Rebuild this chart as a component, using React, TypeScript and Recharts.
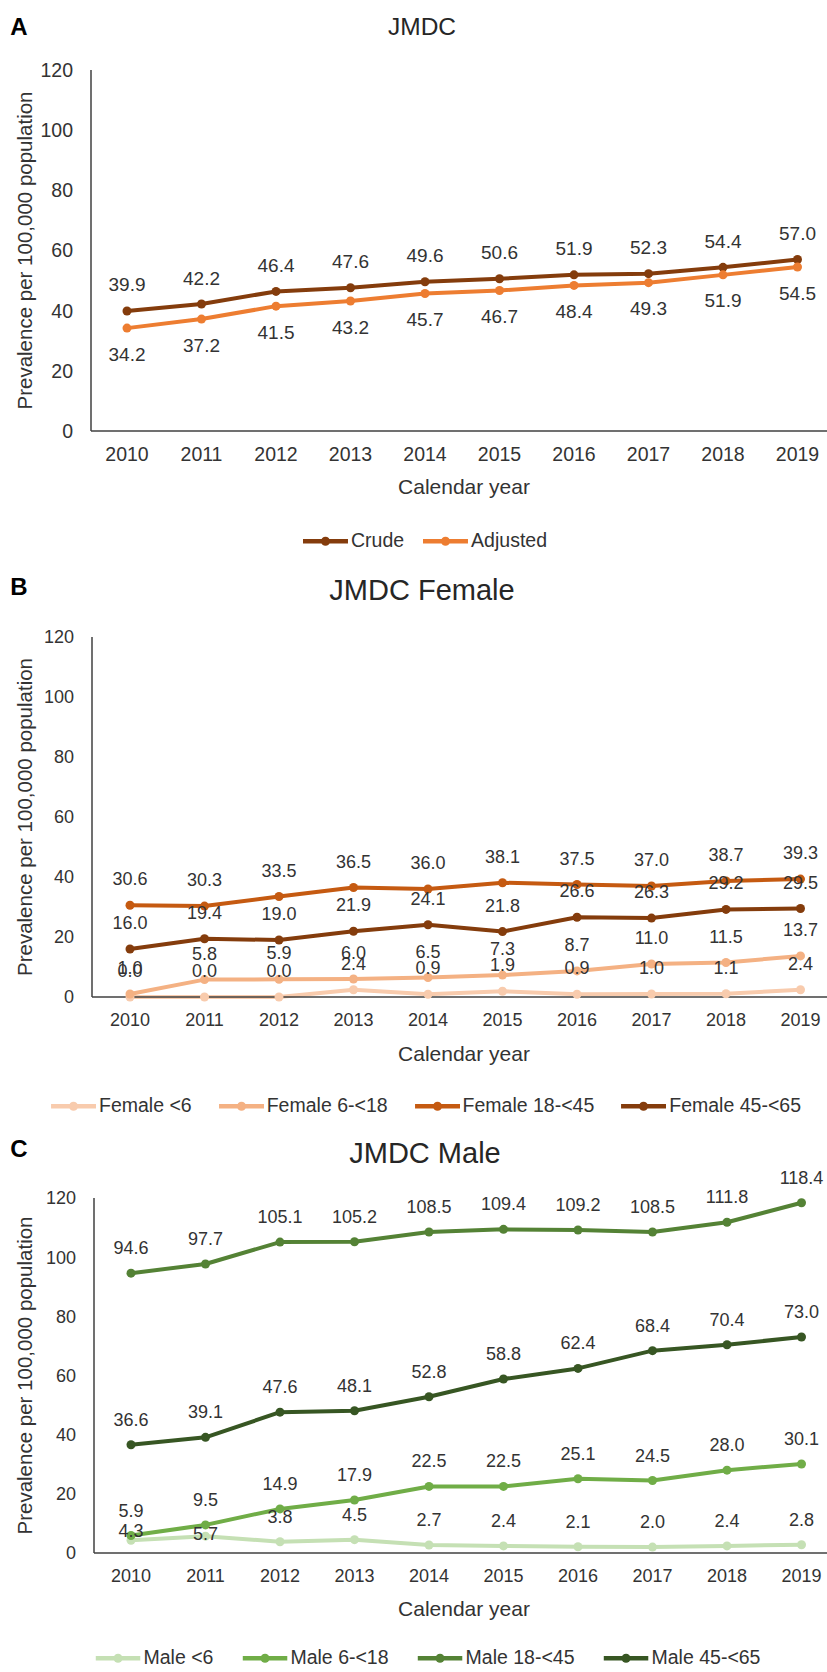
import React from "react";
import { LineChart, Line, XAxis, YAxis, LabelList } from "recharts";

const years = ["2010", "2011", "2012", "2013", "2014", "2015", "2016", "2017", "2018", "2019"];
const yTicks = [0, 20, 40, 60, 80, 100, 120];

// A: overall
const crude = [39.9, 42.2, 46.4, 47.6, 49.6, 50.6, 51.9, 52.3, 54.4, 57.0];
const adjusted = [34.2, 37.2, 41.5, 43.2, 45.7, 46.7, 48.4, 49.3, 51.9, 54.5];

// B: female by age group
const femaleUnder6 = [0.0, 0.0, 0.0, 2.4, 0.9, 1.9, 0.9, 1.0, 1.1, 2.4];
const female6to18 = [1.0, 5.8, 5.9, 6.0, 6.5, 7.3, 8.7, 11.0, 11.5, 13.7];
const female18to45 = [30.6, 30.3, 33.5, 36.5, 36.0, 38.1, 37.5, 37.0, 38.7, 39.3];
const female45to65 = [16.0, 19.4, 19.0, 21.9, 24.1, 21.8, 26.6, 26.3, 29.2, 29.5];

// C: male by age group
const maleUnder6 = [4.3, 5.7, 3.8, 4.5, 2.7, 2.4, 2.1, 2.0, 2.4, 2.8];
const male6to18 = [5.9, 9.5, 14.9, 17.9, 22.5, 22.5, 25.1, 24.5, 28.0, 30.1];
const male18to45 = [94.6, 97.7, 105.1, 105.2, 108.5, 109.4, 109.2, 108.5, 111.8, 118.4];
const male45to65 = [36.6, 39.1, 47.6, 48.1, 52.8, 58.8, 62.4, 68.4, 70.4, 73.0];

const FONT = "Arial, 'Liberation Sans', Helvetica, sans-serif";
const TEXT = "#333333";
const TITLE = "#262626";
const AXIS = "#404040";

type Series = {
  key: string;
  name: string;
  color: string;
  values: number[];
  dy: number;
  dyAt?: Record<number, number>;
};

const seriesA: Series[] = [
  { key: "crude", name: "Crude", color: "#843C0C", values: crude, dy: -26 },
  { key: "adjusted", name: "Adjusted", color: "#ED7D31", values: adjusted, dy: 26 },
];

const seriesB: Series[] = [
  { key: "f0", name: "Female <6", color: "#F8CBAD", values: femaleUnder6, dy: -26 },
  { key: "f1", name: "Female 6-<18", color: "#F4B183", values: female6to18, dy: -26 },
  { key: "f2", name: "Female 18-<45", color: "#C55A11", values: female18to45, dy: -26 },
  { key: "f3", name: "Female 45-<65", color: "#843C0C", values: female45to65, dy: -26 },
];

const seriesC: Series[] = [
  // first two labels sit closer to the line so they clear the 6-<18 labels
  { key: "m0", name: "Male <6", color: "#C5E0B4", values: maleUnder6, dy: -25, dyAt: { 0: -9, 1: -2 } },
  { key: "m1", name: "Male 6-<18", color: "#70AD47", values: male6to18, dy: -25 },
  { key: "m2", name: "Male 18-<45", color: "#548235", values: male18to45, dy: -25 },
  { key: "m3", name: "Male 45-<65", color: "#375623", values: male45to65, dy: -25 },
];

function makeRows(series: Series[]) {
  return years.map((year, i) => {
    const row: Record<string, string | number> = { year };
    series.forEach((s) => {
      row[s.key] = s.values[i];
    });
    return row;
  });
}

function Centered({ x, y, size, bold, color, children }: any) {
  return (
    <div
      style={{
        position: "absolute",
        left: x,
        top: y,
        transform: "translate(-50%, -50%)",
        fontSize: size,
        fontWeight: bold ? 700 : 400,
        color,
        whiteSpace: "nowrap",
        lineHeight: 1,
      }}
    >
      {children}
    </div>
  );
}

function LegendRow({ series, y, cx, gap }: { series: Series[]; y: number; cx: number; gap: number }) {
  return (
    <div
      style={{
        position: "absolute",
        left: cx,
        top: y,
        transform: "translate(-50%, -50%)",
        display: "flex",
        alignItems: "center",
        gap,
        whiteSpace: "nowrap",
        fontSize: 19.5,
        color: TEXT,
        lineHeight: 1,
      }}
    >
      {series.map((s) => (
        <div key={s.key} style={{ display: "flex", alignItems: "center" }}>
          <svg width={45} height={12} style={{ marginRight: 3 }}>
            <line x1={0} y1={6} x2={45} y2={6} stroke={s.color} strokeWidth={4.5} />
            <circle cx={22.5} cy={6} r={4.5} fill={s.color} />
          </svg>
          <span>{s.name}</span>
        </div>
      ))}
    </div>
  );
}

type PanelProps = {
  letter: string;
  letterY: number;
  title: string;
  titleX: number;
  titleY: number;
  titleSize: number;
  plotTop: number;
  plotBottom: number;
  axisX: number;
  firstX: number;
  tickSize: number;
  labelSize: number;
  calY: number;
  legendY: number;
  legendX: number;
  legendGap: number;
  series: Series[];
};

function Panel(p: PanelProps) {
  const W = 840;
  const marginTop = 45;
  const top = p.plotTop - marginTop;
  const height = p.plotBottom - top + 40;
  const pad = p.firstX - p.axisX;
  const plotRight = p.firstX + 9 * 74.5 + pad;
  const rows = makeRows(p.series);
  const labelCy = marginTop + (p.plotBottom - p.plotTop) / 2;

  return (
    <>
      <Centered x={19} y={p.letterY} size={24} bold color="#000">
        {p.letter}
      </Centered>
      <Centered x={p.titleX} y={p.titleY} size={p.titleSize} color={TITLE}>
        {p.title}
      </Centered>
      <div style={{ position: "absolute", left: 0, top }}>
        <LineChart
          width={W}
          height={height}
          data={rows}
          margin={{ top: marginTop, right: W - plotRight, bottom: 0, left: 0 }}
        >
          <XAxis
            dataKey="year"
            interval={0}
            height={40}
            padding={{ left: pad, right: pad }}
            axisLine={{ stroke: AXIS, strokeWidth: 1.5 }}
            tickLine={false}
            tickSize={0}
            tickMargin={16}
            tick={{ fill: TEXT, fontSize: p.tickSize, fontFamily: FONT }}
          />
          <YAxis
            type="number"
            domain={[0, 120]}
            ticks={yTicks}
            interval={0}
            width={p.axisX}
            axisLine={{ stroke: AXIS, strokeWidth: 1.5 }}
            tickLine={false}
            tickSize={0}
            tickMargin={18}
            tick={{ fill: TEXT, fontSize: p.tickSize, fontFamily: FONT }}
            label={() => (
              <text
                x={24}
                y={labelCy}
                transform={`rotate(-90, 24, ${labelCy})`}
                textAnchor="middle"
                dominantBaseline="central"
                fill={TEXT}
                fontSize={20.5}
                fontFamily={FONT}
              >
                Prevalence per 100,000 population
              </text>
            )}
          />
          {p.series.map((s) => (
            <Line
              key={s.key}
              type="linear"
              dataKey={s.key}
              name={s.name}
              stroke={s.color}
              strokeWidth={4}
              strokeLinejoin="round"
              dot={{ r: 4.5, fill: s.color, stroke: s.color, strokeWidth: 0 }}
              activeDot={false}
              isAnimationActive={false}
            >
              <LabelList
                dataKey={s.key}
                content={(lp: any) => {
                  const dy = s.dyAt && s.dyAt[lp.index] !== undefined ? s.dyAt[lp.index] : s.dy;
                  return (
                    <text
                      x={lp.x}
                      y={lp.y + dy}
                      textAnchor="middle"
                      dominantBaseline="central"
                      fill={TEXT}
                      fontSize={p.labelSize}
                      fontFamily={FONT}
                    >
                      {Number(lp.value).toFixed(1)}
                    </text>
                  );
                }}
              />
            </Line>
          ))}
        </LineChart>
      </div>
      <Centered x={464} y={p.calY} size={21} color={TEXT}>
        Calendar year
      </Centered>
      <LegendRow series={p.series} y={p.legendY} cx={p.legendX} gap={p.legendGap} />
    </>
  );
}

export default function App() {
  return (
    <div
      style={{
        position: "absolute",
        left: 0,
        top: 0,
        width: 827,
        height: 1672,
        overflow: "hidden",
        background: "#fff",
        fontFamily: FONT,
      }}
    >
      <Panel
        letter="A"
        letterY={27}
        title="JMDC"
        titleX={422}
        titleY={27}
        titleSize={24.5}
        plotTop={70}
        plotBottom={431}
        axisX={91}
        firstX={127}
        tickSize={19.5}
        labelSize={19}
        calY={486}
        legendY={541}
        legendX={425}
        legendGap={19}
        series={seriesA}
      />
      <Panel
        letter="B"
        letterY={587}
        title="JMDC Female"
        titleX={422}
        titleY={590}
        titleSize={29}
        plotTop={637}
        plotBottom={997}
        axisX={92}
        firstX={130}
        tickSize={18}
        labelSize={18}
        calY={1053}
        legendY={1106}
        legendX={426}
        legendGap={27}
        series={seriesB}
      />
      <Panel
        letter="C"
        letterY={1149}
        title="JMDC Male"
        titleX={425}
        titleY={1153}
        titleSize={29}
        plotTop={1198}
        plotBottom={1553}
        axisX={94}
        firstX={131}
        tickSize={18}
        labelSize={18}
        calY={1608}
        legendY={1658}
        legendX={428}
        legendGap={29}
        series={seriesC}
      />
    </div>
  );
}
